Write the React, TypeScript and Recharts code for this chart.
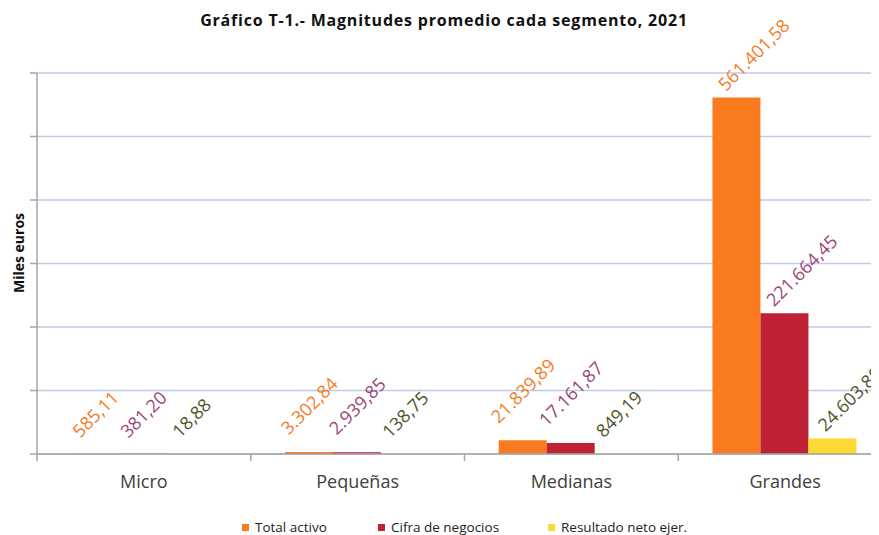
import React from 'react';
import { BarChart, Bar, XAxis, YAxis, CartesianGrid, LabelList, Legend } from 'recharts';

const categories = ['Micro', 'Pequeñas', 'Medianas', 'Grandes'];
const totalActivo = [585.11, 3302.84, 21839.89, 561401.58];
const cifraNegocios = [381.2, 2939.85, 17161.87, 221664.45];
const resultadoNeto = [18.88, 138.75, 849.19, 24603.8];
const yTicks = [0, 100000, 200000, 300000, 400000, 500000, 600000];

const seriesNames = ['Total activo', 'Cifra de negocios', 'Resultado neto ejer.'];
const seriesKeys = ['total', 'cifra', 'resultado'];
const barColors = ['#FA7A20', '#BE2335', '#FCD934'];
const labelColors = ['#F57B24', '#9B4479', '#4D5426'];
// Excel shifted the labels of the last category slightly
const labelNudge: number[][] = [[0, 0], [0, 0], [0, 0], [17, 10]];

const data = categories.map((name, i) => ({
  name,
  total: totalActivo[i],
  cifra: cifraNegocios[i],
  resultado: resultadoNeto[i],
}));

const FONT = '"Open Sans", "Noto Sans", sans-serif';
const AXIS_COLOR = '#A6A6A6';

function fmt(v: number): string {
  const fixed = v.toFixed(2);
  const [intPart, dec] = fixed.split('.');
  const withSep = intPart.replace(/\B(?=(\d{3})+(?!\d))/g, '.');
  return `${withSep},${dec}`;
}

const makeLabel = (color: string) => (props: any) => {
  const { x, y, width, value, index } = props;
  const text = fmt(Number(value));
  const n = text.length;
  const nudge = labelNudge[index] || [0, 0];
  const cx = Number(x) + Number(width) / 2 + nudge[0];
  const cy = Number(y) - (20 + n * 3.3) + nudge[1];
  return (
    <text
      x={cx}
      y={cy}
      fill={color}
      fontSize={18}
      fontFamily={FONT}
      textAnchor="middle"
      dominantBaseline="central"
      transform={`rotate(-45, ${cx}, ${cy})`}
    >
      {text}
    </text>
  );
};

const CategoryTick = (props: any) => {
  const { x, y, payload } = props;
  const half = Number(payload && payload.offset) || 0;
  const bx = Number(x) - half;
  return (
    <g>
      <line x1={bx} y1={y} x2={bx} y2={Number(y) + 7} stroke={AXIS_COLOR} strokeWidth={1.5} />
      <text x={x} y={y} dy={34} textAnchor="middle" fill="#404040" fontSize={18} fontFamily={FONT}>
        {payload.value}
      </text>
    </g>
  );
};

const EmptyTick = () => <g />;

const LegendContent = (props: any) => {
  const payload = props.payload || [];
  const items = seriesNames.map((nm) => payload.find((p: any) => p.value === nm)).filter(Boolean);
  const lefts = [242, 378, 548];
  return (
    <div style={{ height: 16, position: 'relative', fontFamily: FONT, fontSize: 13.5, color: '#222' }}>
      {items.map((p: any, i: number) => (
        <div key={i} style={{ position: 'absolute', left: lefts[i] - 8 - 28, top: 0, height: 16, display: 'flex', alignItems: 'center', whiteSpace: 'nowrap' }}>
          <span style={{ display: 'inline-block', width: 7, height: 7, background: p.color, marginRight: 6 }} />
          <span style={{ lineHeight: '16px' }}>{p.value}</span>
        </div>
      ))}
    </div>
  );
};

export default function App() {
  return (
    <div style={{ position: 'relative', width: 871, height: 527, overflow: 'hidden', background: '#fff' }}>
      <div
        style={{
          position: 'absolute',
          left: 0,
          top: 2,
          width: 872,
          textAlign: 'center',
          lineHeight: '20px',
          fontFamily: FONT,
          fontWeight: 700,
          fontSize: 16,
          letterSpacing: 0.8,
          color: '#111',
        }}
      >
        Gráfico T-1.- Magnitudes promedio cada segmento, 2021
      </div>
      <div
        style={{
          position: 'absolute',
          left: 11,
          top: 245,
          transform: 'translate(-50%, -50%) rotate(-90deg)',
          whiteSpace: 'nowrap',
          fontFamily: FONT,
          fontWeight: 700,
          fontSize: 14,
          color: '#111',
          lineHeight: '18px',
        }}
      >
        Miles euros
      </div>
      <BarChart
        width={900}
        height={527}
        data={data}
        margin={{ top: 65, right: 16, left: 28, bottom: 0 }}
        barCategoryGap="16%"
        barGap={0}
      >
        <CartesianGrid vertical={false} stroke="#BCCBE8" strokeWidth={1.5} />
        <XAxis
          dataKey="name"
          height={65}
          stroke={AXIS_COLOR}
          strokeWidth={1.5}
          tickLine={false}
          tickSize={0}
          tickMargin={0}
          tick={CategoryTick}
          interval={0}
        />
        <YAxis
          width={1}
          domain={[0, 600000]}
          ticks={yTicks}
          tick={EmptyTick}
          tickSize={7}
          stroke={AXIS_COLOR}
          strokeWidth={1.5}
        />
        <Legend verticalAlign="bottom" content={LegendContent} />
        {seriesKeys.map((k, i) => (
          <Bar key={k} dataKey={k} name={seriesNames[i]} fill={barColors[i]} isAnimationActive={false}>
            <LabelList dataKey={k} content={makeLabel(labelColors[i])} />
          </Bar>
        ))}
      </BarChart>
    </div>
  );
}
